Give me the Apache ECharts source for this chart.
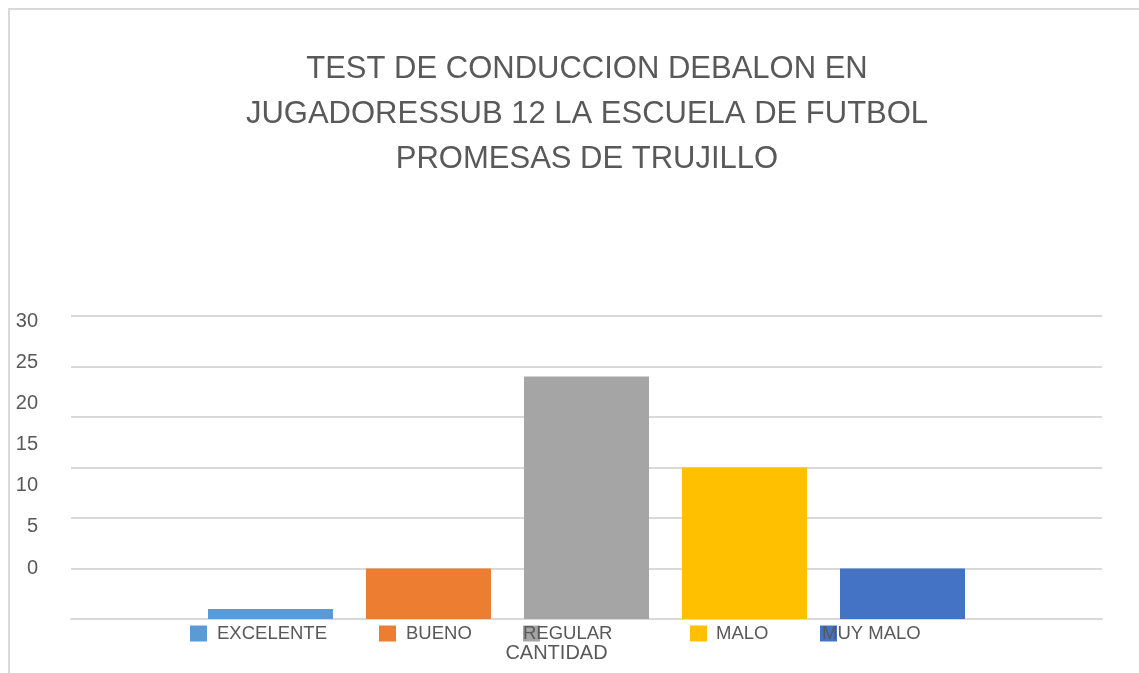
<!DOCTYPE html>
<html>
<head>
<meta charset="utf-8">
<title>Test de conduccion de balon</title>
<script src="https://cdn.jsdelivr.net/npm/echarts@6/dist/echarts.min.js"></script>
<style>
  html, body { margin: 0; padding: 0; background: #fff; overflow: hidden; }
  #frame { position: absolute; left: 8px; top: 8px; width: 1300px; height: 800px; border: 2px solid #d9d9d9; }
  #main { position: absolute; left: 0; top: 0; width: 1139px; height: 673px; }
</style>
</head>
<body>
<div id="frame"></div>
<div id="main"></div>
<script>
// datos
const categoria = ['CANTIDAD'];
const niveles = ['EXCELENTE', 'BUENO', 'REGULAR', 'MALO', 'MUY MALO'];
const cantidades = [1, 5, 24, 15, 5];
const colores = ['#5B9BD5', '#ED7D31', '#A5A5A5', '#FFC000', '#4472C4'];
const etiquetasY = [0, 5, 10, 15, 20, 25, 30];

const texto = '#595959';
const fuente = '"Liberation Sans", Arial, sans-serif';

const chart = echarts.init(document.getElementById('main'), null, { renderer: 'canvas' });

// una leyenda por serie, para colocarlas como en el original
const legendLeft = [190, 379, 523, 690, 820];
const legendPad = [5, 5, -22, 4, -20];
const legends = niveles.map((n, i) => ({
  data: [n],
  left: legendLeft[i],
  top: 624,
  itemWidth: 17,
  itemHeight: 16,
  icon: 'rect',
  padding: 0,
  selectedMode: false,
  textStyle: { color: texto, fontSize: 18.5, fontFamily: fuente, padding: [9, 0, 0, legendPad[i]] }
}));

const option = {
  animation: false,
  title: {
    text: 'TEST DE CONDUCCION DEBALON EN\nJUGADORESSUB 12 LA ESCUELA DE FUTBOL\nPROMESAS DE TRUJILLO',
    left: 582,
    textAlign: 'center',
    top: 42,
    textStyle: { color: texto, fontSize: 31, fontWeight: 'normal', fontFamily: fuente, lineHeight: 45 }
  },
  legend: legends,
  grid: [
    { left: 71, right: 37, top: 316, bottom: 54 },
    { left: 71, right: 37, top: 321, height: 247 }
  ],
  xAxis: [
    {
      type: 'category',
      gridIndex: 0,
      data: categoria,
      axisLine: { lineStyle: { color: '#d9d9d9', width: 2 } },
      axisTick: { show: false },
      axisLabel: { color: texto, fontSize: 20, fontFamily: fuente, margin: 24, padding: [0, 60, 0, 0] }
    },
    { type: 'category', gridIndex: 1, data: categoria, show: false }
  ],
  yAxis: [
    {
      type: 'value',
      gridIndex: 0,
      min: 0,
      max: 30,
      interval: 5,
      axisLabel: { show: false },
      axisLine: { show: false },
      axisTick: { show: false },
      splitLine: { lineStyle: { color: '#d9d9d9', width: 2 } }
    },
    {
      // etiquetas del eje como aparecen en el original (desplazadas)
      type: 'value',
      gridIndex: 1,
      min: etiquetasY[0],
      max: etiquetasY[etiquetasY.length - 1],
      interval: 5,
      axisLabel: { color: texto, fontSize: 20, fontFamily: fuente, margin: 33 },
      axisLine: { show: false },
      axisTick: { show: false },
      splitLine: { show: false }
    }
  ],
  series: niveles.map((n, i) => ({
    name: n,
    type: 'bar',
    xAxisIndex: 0,
    yAxisIndex: 0,
    data: [cantidades[i]],
    barWidth: 125,
    barGap: '26.4%',
    itemStyle: { color: colores[i] }
  }))
};

chart.setOption(option);
</script>
</body>
</html>
